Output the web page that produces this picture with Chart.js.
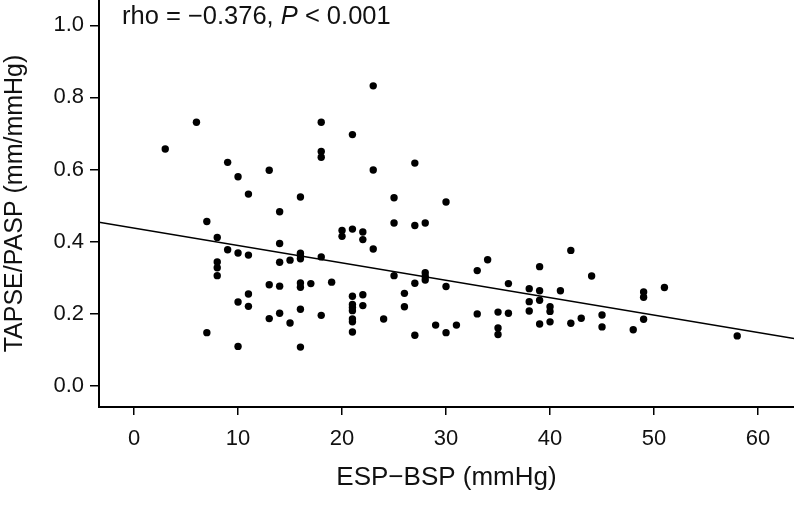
<!DOCTYPE html>
<html>
<head>
<meta charset="utf-8">
<script src="https://cdn.jsdelivr.net/npm/chart.js@4/dist/chart.umd.min.js"></script>
<style>
    html, body { margin: 0; padding: 0; background: #fff; }
    #wrap { width: 794px; height: 528px; }
</style>
</head>
<body>
<div id="wrap"><canvas id="scatterChart" width="794" height="528"></canvas></div>
<script>
// ESP-BSP (mmHg) per patient
const espBsp = [
    3, 6, 9, 10, 11, 13, 16, 18, 18, 18, 21, 23, 23, 25, 27, 30,
    7, 8, 9, 10, 11, 8, 8, 8, 7, 10, 10, 11, 11, 13, 13,
    14, 14, 14, 14, 14, 15, 15, 16, 16, 16, 16, 16, 16, 16, 17,
    18, 18, 19, 20, 20, 21, 21, 21, 21, 21, 21, 21, 21,
    22, 22, 22, 22, 23, 24, 25, 25,
    27, 28, 26, 26, 27, 27, 28, 28, 28, 30, 29, 30, 31,
    33, 34, 33, 35, 35, 35, 36, 36, 38, 38, 38, 39, 39, 39, 39,
    40, 40, 40, 41, 42, 42, 43, 44, 45, 45, 48, 49, 49, 49, 51, 58
];

// TAPSE/PASP (mm/mmHg) per patient
const tapsePasp = [
    0.657, 0.731, 0.620, 0.580, 0.532, 0.598, 0.524, 0.731, 0.650, 0.634, 0.697, 0.832, 0.599, 0.522, 0.618, 0.510,
    0.456, 0.412, 0.378, 0.369, 0.363, 0.344, 0.328, 0.306, 0.148, 0.233, 0.110, 0.255, 0.221, 0.281, 0.187,
    0.483, 0.395, 0.343, 0.277, 0.202, 0.349, 0.175, 0.368, 0.361, 0.353, 0.286, 0.274, 0.213, 0.108, 0.284,
    0.358, 0.196, 0.288, 0.431, 0.415, 0.435, 0.249, 0.226, 0.218, 0.209, 0.186, 0.178, 0.150,
    0.427, 0.406, 0.253, 0.223, 0.380, 0.186, 0.306, 0.452,
    0.445, 0.452, 0.257, 0.220, 0.285, 0.141, 0.314, 0.304, 0.294, 0.276, 0.169, 0.148, 0.169,
    0.320, 0.350, 0.200, 0.205, 0.161, 0.143, 0.284, 0.202, 0.270, 0.234, 0.208, 0.331, 0.264, 0.238, 0.172,
    0.220, 0.207, 0.178, 0.264, 0.376, 0.174, 0.188, 0.305, 0.197, 0.164, 0.156, 0.261, 0.246, 0.185, 0.273, 0.139
];

// fitted regression line, read at the two plot edges
const fitX = [-3.37, 63.46];
const fitY = [0.454, 0.132];

// axis ticks
const xTicks = [0, 10, 20, 30, 40, 50, 60];
const yTicks = [0.0, 0.2, 0.4, 0.6, 0.8, 1.0];

const textColor = '#111';
const fontFamily = '"Liberation Sans", Arial, Helvetica, sans-serif';

// draws the rho / P text in the top left of the plot
const statsLabel = {
    id: 'statsLabel',
    afterDraw(chart) {
        const ctx = chart.ctx;
        const x0 = chart.chartArea.left + 23;
        const y0 = 24;
        ctx.save();
        ctx.fillStyle = textColor;
        ctx.textBaseline = 'alphabetic';
        ctx.textAlign = 'left';
        const parts = [
            { text: 'rho = \u22120.376, ', style: '' },
            { text: 'P', style: 'italic ' },
            { text: ' < 0.001', style: '' }
        ];
        let x = x0;
        parts.forEach(part => {
            ctx.font = part.style + '25.5px ' + fontFamily;
            ctx.fillText(part.text, x, y0);
            x += ctx.measureText(part.text).width;
        });
        ctx.restore();
    }
};

document.addEventListener('DOMContentLoaded', function () {
    const ctx = document.getElementById('scatterChart').getContext('2d');

    new Chart(ctx, {
        type: 'scatter',
        data: {
            datasets: [{
                label: 'Patients',
                data: espBsp.map((x, i) => ({ x: x, y: tapsePasp[i] })),
                backgroundColor: '#000',
                borderColor: '#000',
                pointRadius: 3.7,
                pointBorderWidth: 0
            }, {
                type: 'line',
                label: 'Fit',
                data: fitX.map((x, i) => ({ x: x, y: fitY[i] })),
                borderColor: '#000',
                borderWidth: 1.6,
                pointRadius: 0,
                fill: false
            }]
        },
        plugins: [statsLabel],
        options: {
            responsive: false,
            animation: false,
            layout: { padding: 0, autoPadding: false },
            plugins: {
                legend: { display: false },
                tooltip: { enabled: false }
            },
            scales: {
                x: {
                    type: 'linear',
                    min: fitX[0],
                    max: fitX[1],
                    afterBuildTicks: function (scale) {
                        scale.ticks = xTicks.map(v => ({ value: v }));
                    },
                    afterFit: function (scale) {
                        scale.height = 121;
                        scale.paddingLeft = 0;
                        scale.paddingRight = 0;
                    },
                    border: { display: true, color: '#000', width: 2 },
                    grid: {
                        drawOnChartArea: false,
                        drawTicks: true,
                        tickLength: 8,
                        color: '#000',
                        lineWidth: 1.5
                    },
                    ticks: {
                        color: textColor,
                        padding: 11,
                        font: { family: fontFamily, size: 22 },
                        maxRotation: 0,
                        callback: function (value) {
                            return String(value);
                        }
                    },
                    title: {
                        display: true,
                        text: 'ESP\u2212BSP (mmHg)',
                        color: textColor,
                        font: { family: fontFamily, size: 26, lineHeight: 1.2 },
                        padding: { top: 0, bottom: 35 }
                    }
                },
                y: {
                    type: 'linear',
                    min: -0.058,
                    max: 1.07,
                    afterBuildTicks: function (scale) {
                        scale.ticks = yTicks.map(v => ({ value: v }));
                    },
                    afterFit: function (scale) {
                        scale.width = 99;
                        scale.paddingTop = 0;
                        scale.paddingBottom = 0;
                    },
                    border: { display: true, color: '#000', width: 2 },
                    grid: {
                        drawOnChartArea: false,
                        drawTicks: true,
                        tickLength: 9,
                        color: '#000',
                        lineWidth: 1.5
                    },
                    ticks: {
                        color: textColor,
                        padding: 6,
                        font: { family: fontFamily, size: 22 },
                        callback: function (value) {
                            return value.toFixed(1);
                        }
                    },
                    title: {
                        display: true,
                        text: 'TAPSE/PASP (mm/mmHg)',
                        color: textColor,
                        font: { family: fontFamily, size: 25, lineHeight: 1.2 },
                        padding: { top: 0, bottom: 0 }
                    }
                }
            }
        }
    });
});
</script>
</body>
</html>
